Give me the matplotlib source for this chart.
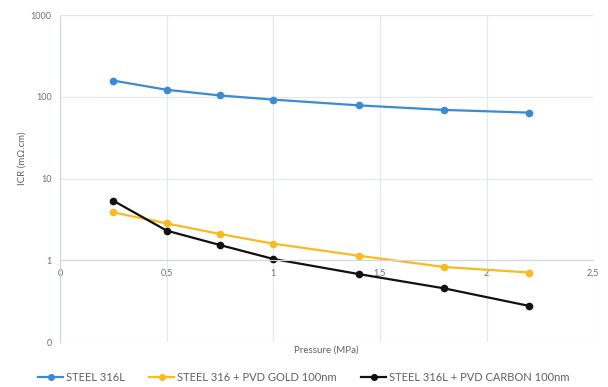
import matplotlib
matplotlib.use("Agg")
import matplotlib.pyplot as plt
from matplotlib.ticker import FixedLocator, FixedFormatter

pressure = [0.25, 0.5, 0.75, 1.0, 1.4, 1.8, 2.2]
icr_steel = [158, 122, 104, 92.5, 78.7, 69.2, 64.1]
icr_gold = [3.86, 2.83, 2.1, 1.6, 1.14, 0.83, 0.71]
icr_carbon = [5.36, 2.31, 1.54, 1.04, 0.68, 0.455, 0.277]

series = [
    ("STEEL 316L", icr_steel, "#3b8bd4"),
    ("STEEL 316 + PVD GOLD 100nm", icr_gold, "#f8bb1f"),
    ("STEEL 316L + PVD CARBON 100nm", icr_carbon, "#111111"),
]

x_ticks = [0, 0.5, 1, 1.5, 2, 2.5]
x_labels = ["0", "0,5", "1", "1,5", "2", "2,5"]
y_ticks = [0.1, 1, 10, 100, 1000]
y_labels = ["0", "1", "10", "100", "1000"]

plt.rcParams["font.family"] = ["Lato", "DejaVu Sans"]

fig = plt.figure(figsize=(6.08, 3.87), dpi=100)
ax = fig.add_axes([0.0987, 0.116, 0.877, 0.845])

for name, vals, color in series:
    ax.plot(pressure, vals, color=color, lw=1.6, marker="o", ms=4.5, label=name)

ax.set_yscale("log")
ax.set_xlim(0, 2.5)
ax.set_ylim(0.1, 1000)

ax.xaxis.set_major_locator(FixedLocator(x_ticks))
ax.xaxis.set_major_formatter(FixedFormatter(x_labels))
ax.yaxis.set_major_locator(FixedLocator(y_ticks))
ax.yaxis.set_major_formatter(FixedFormatter(y_labels))
ax.yaxis.set_minor_locator(FixedLocator([]))

grid_color = "#e3e8f0"
ax.grid(True, color=grid_color, lw=0.9)
ax.set_axisbelow(True)

ax.spines["bottom"].set_position(("data", 1))
ax.spines["bottom"].set_color("#cfd6e2")
ax.spines["left"].set_color("#cfd6e2")
ax.spines["top"].set_visible(False)
ax.spines["right"].set_visible(False)
ax.tick_params(length=0, labelsize=6.5, labelcolor="#707070", pad=6)

fig.text(0.036, 0.59, "ICR (mΩ.cm)", rotation=90, ha="center", va="center",
         fontsize=7, color="#606060")
fig.text(0.536, 0.09, "Pressure (MPa)", ha="center", fontsize=7, color="#606060")

handles, labels = ax.get_legend_handles_labels()
fig.legend(handles, labels, loc="center", bbox_to_anchor=(0.5, 0.025), ncol=3,
           frameon=False, fontsize=8, labelcolor="#606060", handlelength=2.2,
           handletextpad=0.3, columnspacing=2.2, markerscale=0.9)

plt.savefig("out.png", dpi=100)
plt.close()
